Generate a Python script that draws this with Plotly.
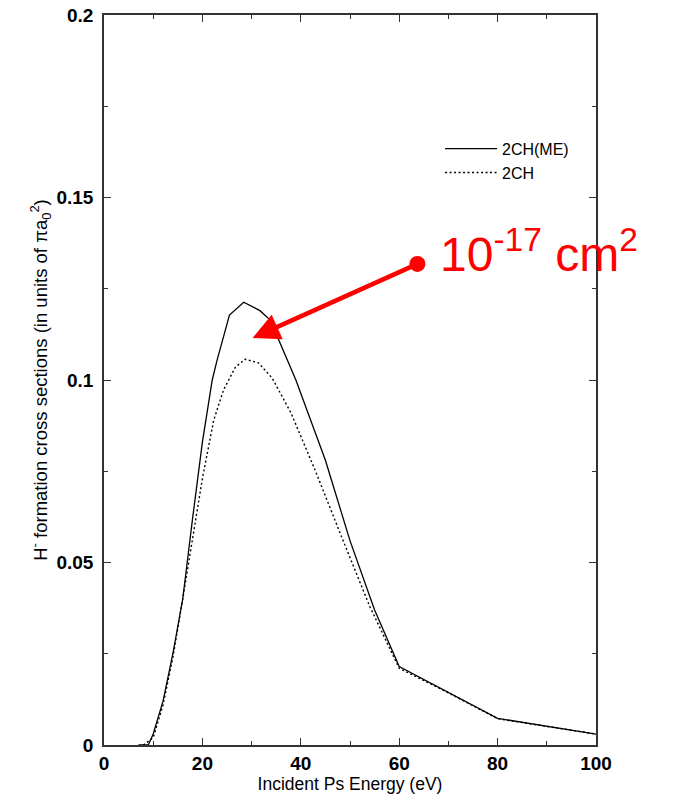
import plotly.graph_objects as go

# 2CH(ME) – solid curve
energy_me = [7, 9, 10, 12, 14, 16, 18, 20, 22, 23, 25.5, 28.4, 31.7, 33.8, 39, 45, 50, 55, 60, 70, 80, 100]
sigma_me = [0, 0, 0.003, 0.012, 0.025, 0.040, 0.062, 0.083, 0.100, 0.1055, 0.1178, 0.1213, 0.119, 0.1164,
            0.100, 0.078, 0.056, 0.037, 0.0215, 0.0145, 0.0073, 0.003]

# 2CH – dotted curve
energy_2ch = [8, 10, 12, 14, 16, 18, 20, 22.3, 24.3, 26.7, 28.7, 31.4, 34.2, 38, 43, 48, 54, 60, 70, 80, 100]
sigma_2ch = [0, 0.002, 0.011, 0.024, 0.040, 0.057, 0.073, 0.089, 0.0973, 0.1035, 0.1057, 0.1047, 0.1005,
             0.091, 0.075, 0.058, 0.038, 0.021, 0.0143, 0.0072, 0.003]

series_names = ["2CH(ME)", "2CH"]
annotation_text = "10<sup>-17</sup> cm<sup>2</sup>"
arrow_tail = (63.7, 0.1318)
arrow_tip = (30.2, 0.1115)

FONT = "Liberation Sans, Arial, Helvetica, sans-serif"

fig = go.Figure()
fig.add_trace(go.Scatter(x=energy_me, y=sigma_me, mode="lines", name=series_names[0],
                         line=dict(color="black", width=1.3)))
fig.add_trace(go.Scatter(x=energy_2ch, y=sigma_2ch, mode="lines", name=series_names[1],
                         line=dict(color="black", width=1.4, dash="2px,2.5px")))
# red dot at the arrow tail
fig.add_trace(go.Scatter(x=[arrow_tail[0]], y=[arrow_tail[1]], mode="markers", showlegend=False,
                         marker=dict(color="#ff0000", size=16), hoverinfo="skip"))

fig.add_annotation(x=arrow_tip[0], y=arrow_tip[1], ax=arrow_tail[0], ay=arrow_tail[1],
                   xref="x", yref="y", axref="x", ayref="y", text="", showarrow=True,
                   arrowhead=2, arrowwidth=4.5, arrowsize=1.2, arrowcolor="#ff0000")
fig.add_annotation(x=arrow_tail[0], y=arrow_tail[1], xref="x", yref="y", text=annotation_text,
                   showarrow=False, xanchor="left", yanchor="middle", xshift=21, yshift=13,
                   font=dict(family=FONT, size=48, color="#ff0000"))

axis_common = dict(showgrid=False, zeroline=False, showline=True, linecolor="#333333", linewidth=1.5,
                   mirror="ticks", ticks="inside", ticklen=7, tickwidth=1.3, tickcolor="#333333",
                   automargin=False, ticklabeloverflow="allow",
                   tickfont=dict(family=FONT, size=19, color="black", weight="bold"))

fig.update_xaxes(range=[0, 100], dtick=20, tick0=0,
                 minor=dict(dtick=10, ticks="inside", ticklen=4, tickcolor="#333333"),
                 title=dict(text="Incident Ps Energy (eV)", font=dict(family=FONT, size=17.5, color="black"),
                            standoff=3),
                 **axis_common)
fig.update_yaxes(range=[0, 0.2], dtick=0.05, tick0=0, ticklabelstandoff=5,
                 minor=dict(dtick=0.025, ticks="inside", ticklen=4, tickcolor="#333333"),
                 title=dict(text="H<sup>-</sup> formation cross sections (in units of πa<sub>0</sub><sup>2</sup>)",
                            font=dict(family=FONT, size=18.5, color="black"), standoff=4),
                 **axis_common)

fig.update_layout(
    width=691, height=806,
    margin=dict(l=104, r=95, t=15, b=61, autoexpand=False),
    paper_bgcolor="white", plot_bgcolor="white",
    font=dict(family=FONT, color="black"),
    legend=dict(x=0.683, y=0.84, xanchor="left", yanchor="top", bgcolor="rgba(0,0,0,0)",
                font=dict(family=FONT, size=16, color="black"), tracegroupgap=0, itemwidth=52),
)

# remove the default 8px page margin so the figure fills the window exactly
fig.write_html("out.html", config={"displayModeBar": False},
               post_script="document.body.style.margin='0px';")
